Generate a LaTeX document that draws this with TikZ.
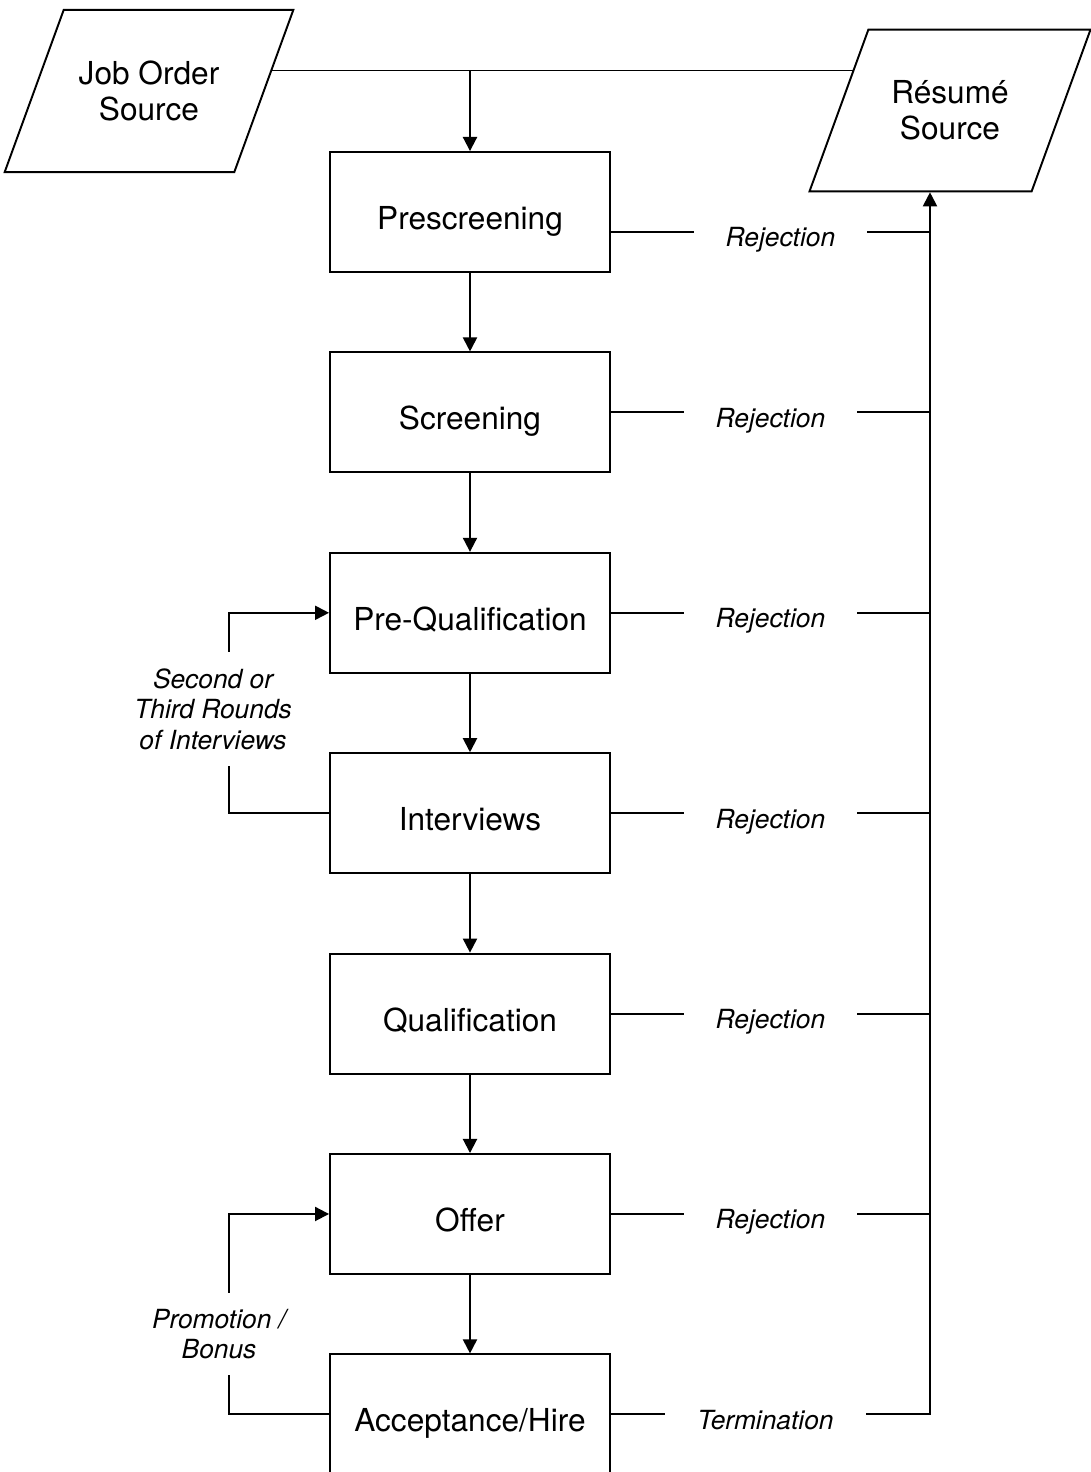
\documentclass[tikz,border=0pt]{standalone}
\usepackage{fontspec}
\setmainfont{TeX Gyre Heros}
\usetikzlibrary{shapes.geometric,arrows.meta,positioning,backgrounds}

\begin{document}
\begin{tikzpicture}[x=0.02cm,y=-0.02cm,line width=1.1pt,
  >={Triangle[length=8pt,width=8pt]},
  node distance=1.57cm,
  stage/.style={rectangle,draw,fill=white,minimum width=5.6cm,minimum height=2.4cm,
    text height=20pt,text depth=0pt,font=\fontsize{18}{20.5}\selectfont},
  source/.style={trapezium,trapezium left angle=70,trapezium right angle=110,
    trapezium stretches body=true,draw,fill=white,inner ysep=1.02cm,inner xsep=0.3cm,
    minimum width=5.62cm,align=center,font=\fontsize{18}{20.5}\selectfont},
  outcome/.style={fill=white,inner xsep=0.64cm,inner ysep=2pt,text height=17pt,text depth=0pt,
    font=\fontsize{15}{17.4}\selectfont\itshape},
  loopnote/.style={fill=white,align=center,inner xsep=2pt,inner ysep=0.32cm,
    font=\fontsize{15}{17.4}\selectfont\itshape}]
  \useasboundingbox (0,0) rectangle (1090,1472);

  \node[source] (joborder) at (149,91) {Job Order\\Source};
  \node[source] (resume) at (950,110.5) {Résumé\\Source};

  \node[stage] (prescreen) at (470,212) {Prescreening};
  \node[stage,below=of prescreen] (screen) {Screening};
  \node[stage,below=of screen] (prequal) {Pre-Qualification};
  \node[stage,below=of prequal] (interviews) {Interviews};
  \node[stage,below=of interviews] (qualif) {Qualification};
  \node[stage,below=of qualif] (offer) {Offer};
  \node[stage,below=of offer] (accept) {Acceptance/Hire};

  \coordinate (feed) at (470,70);
  \coordinate (spine) at (930,1415);

  % job order feeds the resume source line
  \begin{scope}[on background layer]
    \draw (joborder.center |- feed) -- (resume.center |- feed);
  \end{scope}
  \draw[->] (feed) -- (prescreen);

  \draw[->] (prescreen) -- (screen);
  \draw[->] (screen) -- (prequal);
  \draw[->] (prequal) -- (interviews);
  \draw[->] (interviews) -- (qualif);
  \draw[->] (qualif) -- (offer);
  \draw[->] (offer) -- (accept);

  % rejections back to the resume pool
  \draw ([yshift=-0.4cm]prescreen.east) -- node[outcome,xshift=0.2cm] {Rejection} ([yshift=-0.4cm]prescreen.east -| spine);
  \draw (screen.east) -- node[outcome] {Rejection} (screen.east -| spine);
  \draw (prequal.east) -- node[outcome] {Rejection} (prequal.east -| spine);
  \draw (interviews.east) -- node[outcome] {Rejection} (interviews.east -| spine);
  \draw (qualif.east) -- node[outcome] {Rejection} (qualif.east -| spine);
  \draw (offer.east) -- node[outcome] {Rejection} (offer.east -| spine);
  \draw[->] (accept.east) -- node[outcome,xshift=-0.1cm] {Termination} (accept.east -| spine) -- (spine |- resume.south);

  % loops on the left
  \draw[->] (interviews.west) -- ++(-100,0) |- node[loopnote,pos=0.26,xshift=-0.32cm] {Second or\\Third Rounds\\of Interviews} (prequal.west);
  \draw[->] (accept.west) -- ++(-100,0) |- node[loopnote,pos=0.2,xshift=-0.2cm] {Promotion /\\Bonus} (offer.west);
\end{tikzpicture}
\end{document}
